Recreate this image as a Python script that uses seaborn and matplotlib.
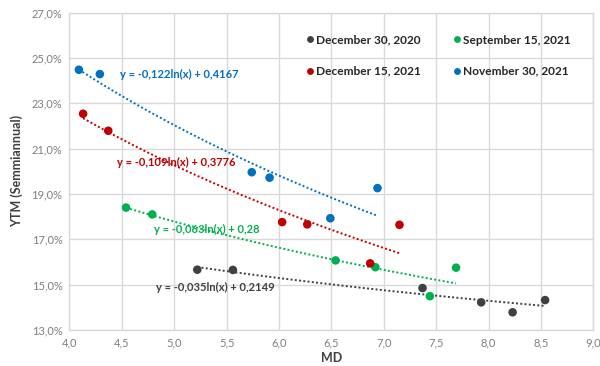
import seaborn as sns
import numpy as np
import pandas as pd
import matplotlib.pyplot as plt
from matplotlib.ticker import FuncFormatter, MultipleLocator

# data (MD, YTM in %)
dec20_md = [5.22, 5.56, 7.37, 7.93, 8.23, 8.54]
dec20_ytm = [15.66, 15.65, 14.85, 14.22, 13.78, 14.32]
sep21_md = [4.54, 4.79, 6.54, 6.92, 7.44, 7.69]
sep21_ytm = [18.40, 18.10, 16.07, 15.77, 14.49, 15.75]
dec21_md = [4.13, 4.37, 6.03, 6.27, 6.87, 7.15]
dec21_ytm = [22.54, 21.79, 17.76, 17.66, 15.94, 17.64]
nov21_md = [4.09, 4.29, 5.74, 5.91, 6.49, 6.94]
nov21_ytm = [24.48, 24.29, 19.96, 19.72, 17.93, 19.26]

series = ["December 30, 2020", "September 15, 2021", "December 15, 2021", "November 30, 2021"]
colors = ["#404040", "#00B050", "#C00000", "#0070C0"]
equations = ["y = -0,035ln(x) + 0,2149", "y = -0,063ln(x) + 0,28",
             "y = -0,109ln(x) + 0,3776", "y = -0,122ln(x) + 0,4167"]
eq_pos = [(4.83, 14.88), (4.81, 17.44), (4.45, 20.41), (4.48, 24.29)]
y_ticks = [13, 15, 17, 19, 21, 23, 25, 27]

df = pd.DataFrame({
    "MD": dec20_md + sep21_md + dec21_md + nov21_md,
    "YTM": dec20_ytm + sep21_ytm + dec21_ytm + nov21_ytm,
    "Date": [s for s in series for _ in range(6)],
})

sns.set_style("white")
plt.rcParams['font.family'] = ['Lato', 'DejaVu Sans']

fig = plt.figure(figsize=(6, 3.66), dpi=100)
ax = fig.add_axes([0.1158, 0.0984, 0.873, 0.867])

# log trendlines (like Excel's logarithmic trend)
for name, col in zip(series, colors):
    sub = df[df["Date"] == name]
    sns.regplot(data=sub, x="MD", y="YTM", logx=True, ci=None, scatter=False, ax=ax,
                line_kws={"color": col, "linestyle": (0, (1, 1.2)), "linewidth": 1.4})

sns.scatterplot(data=df, x="MD", y="YTM", hue="Date", hue_order=series,
                palette=colors, s=38, edgecolor="none", ax=ax, zorder=3)

for eq, (x, y), col in zip(equations, eq_pos, colors):
    ax.text(x, y, eq, color=col, fontsize=8, fontweight="bold", va="center", ha="left")

ax.set_xlim(4, 9)
ax.set_ylim(13, 27)
ax.xaxis.set_major_locator(MultipleLocator(0.5))
ax.set_yticks(y_ticks)
ax.xaxis.set_major_formatter(FuncFormatter(lambda v, p: f"{v:.1f}".replace(".", ",")))
ax.yaxis.set_major_formatter(FuncFormatter(lambda v, p: f"{v:.1f}%".replace(".", ",")))
ax.tick_params(axis="both", labelsize=8, colors="#7f7f7f", length=0, pad=5)
ax.grid(True, color="#d9d9d9", linewidth=1)
for sp in ax.spines.values():
    sp.set_color("#d9d9d9")
    sp.set_linewidth(1)

ax.set_xlabel("MD", fontsize=9, fontweight="bold", color="#404040", labelpad=3)
ax.set_ylabel("YTM (Semmiannual)", fontsize=9, fontweight="bold", color="#404040", labelpad=6)

handles, labels = ax.get_legend_handles_labels()
order = [0, 2, 1, 3]
ax.legend([handles[i] for i in order], [labels[i] for i in order], ncol=2, frameon=False,
          loc="upper right", bbox_to_anchor=(0.977, 0.965), handletextpad=0.1,
          handlelength=0.8, columnspacing=2.6, labelspacing=1.7, markerscale=0.8,
          prop={"weight": "bold", "size": 8.6})

fig.savefig("out.png", dpi=100)
